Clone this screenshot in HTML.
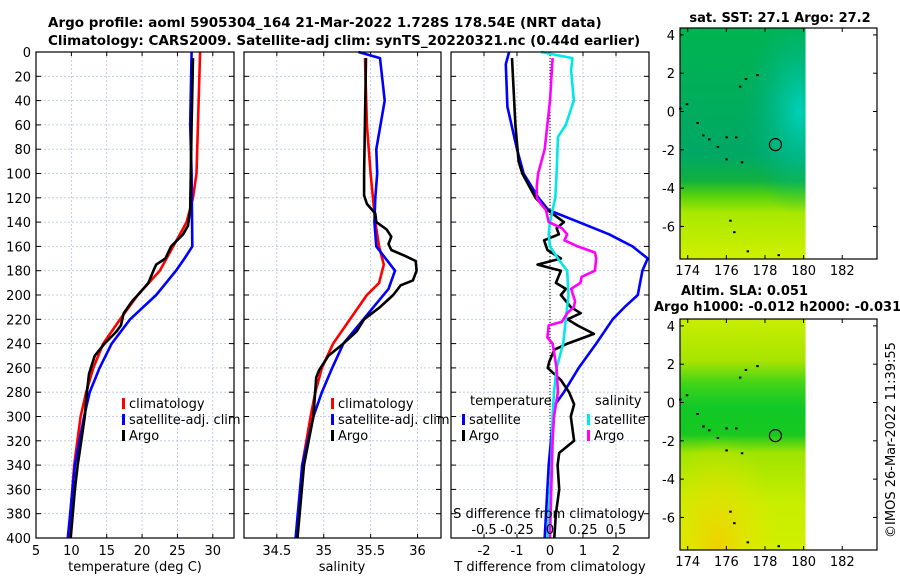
<!DOCTYPE html>
<html><head><meta charset="utf-8"><style>
body{margin:0;background:#fff;}
svg{display:block;font-family:"DejaVu Sans","Liberation Sans",sans-serif;}
</style></head><body>
<svg id="fig" width="900" height="580" viewBox="0 0 900 580" xmlns="http://www.w3.org/2000/svg">
<defs>
<linearGradient id="sstV" x1="0" y1="0" x2="0" y2="1">
<stop offset="0" stop-color="#00b450"/><stop offset="0.55" stop-color="#00a865"/><stop offset="0.66" stop-color="#10b040"/><stop offset="0.72" stop-color="#50d010"/><stop offset="0.8" stop-color="#a8e800"/><stop offset="1" stop-color="#d0f000"/>
</linearGradient>
<radialGradient id="sstC" cx="0.95" cy="0.36" r="0.45"><stop offset="0" stop-color="#00d0b8"/><stop offset="1" stop-color="#00b080" stop-opacity="0"/></radialGradient>
<linearGradient id="slaV" x1="0" y1="0" x2="0" y2="1">
<stop offset="0" stop-color="#c8ee00"/><stop offset="0.18" stop-color="#a8e400"/><stop offset="0.28" stop-color="#40d418"/><stop offset="0.38" stop-color="#10c828"/><stop offset="0.5" stop-color="#18c820"/><stop offset="0.58" stop-color="#a0e400"/><stop offset="0.8" stop-color="#c8ee00"/><stop offset="1" stop-color="#d0f000"/>
</linearGradient>
<radialGradient id="slaO" cx="0.3" cy="1" r="0.5"><stop offset="0" stop-color="#f0d000"/><stop offset="1" stop-color="#e8e800" stop-opacity="0"/></radialGradient>
</defs>
<g id="titles" font-weight="bold" font-size="13.5">
<text x="48" y="27">Argo profile: aoml 5905304_164 21-Mar-2022 1.728S 178.54E (NRT data)</text>
<text x="48" y="45">Climatology: CARS2009. Satellite-adj clim: synTS_20220321.nc (0.44d earlier)</text>
</g>
<g id="plots"></g>
</svg>
<script>
// ---- data: depth (m) arrays and values ----
const depthClimT=[0,100,120,140,160,180,200,220,240,260,280,300,340,400];
const tempClim=[28.2,27.7,27.2,26.3,24.4,22.5,19.4,16.9,14.5,13.1,12.1,11.3,10.4,9.6];
const depthSatT=[0,60,100,160,170,180,200,220,240,260,280,300,340,400];
const tempSat=[27.0,26.8,27.0,27.1,26.0,24.8,22.0,18.3,15.7,14.0,12.6,11.8,10.5,9.5];
const depthArgoT=[5,60,130,143,150,160,170,175,180,190,200,205,215,225,230,240,250,265,280,300,320,340,360,400];
const tempArgo=[27.2,27.0,26.8,26.5,25.8,24.1,23.3,22.0,21.6,20.9,19.4,18.6,17.4,17.0,16.4,14.7,13.3,12.5,12.2,11.9,11.4,10.9,10.5,9.9];
const depthClimS=[5,60,100,140,160,175,190,200,220,240,260,280,300,340,400];
const salClim=[35.44,35.46,35.5,35.55,35.59,35.64,35.59,35.46,35.28,35.1,34.98,34.91,34.86,34.77,34.71];
const depthSatS=[0,5,40,80,100,120,140,160,180,195,210,225,240,260,280,300,340,400];
const salSat=[35.37,35.6,35.65,35.56,35.57,35.55,35.54,35.56,35.76,35.69,35.53,35.37,35.21,35.09,34.98,34.89,34.77,34.7];
const depthArgoS=[5,100,118,125,133,140,146,152,158,163,168,172,180,188,192,200,210,220,230,240,250,262,268,300,320,340,400];
const salArgo=[35.45,35.43,35.43,35.46,35.55,35.56,35.67,35.72,35.69,35.72,35.87,35.98,35.99,35.95,35.82,35.74,35.6,35.43,35.35,35.21,35.05,34.95,34.92,34.89,34.84,34.79,34.72];
const depthDT=[0,10,45,80,100,120,130,140,150,160,170,180,200,210,220,240,260,280,290,310,340,400];
const dTSat=[-1.24,-1.34,-1.29,-1.0,-0.8,-0.35,-0.05,0.87,1.79,2.5,2.96,2.8,2.66,2.26,1.9,1.4,0.87,0.42,0.16,0.06,-0.04,-0.16];
const depthDTA=[5,60,90,100,120,130,140,145,150,155,163,170,175,180,190,195,200,210,215,220,225,232,240,245,255,260,270,280,290,300,320,330,340,360,380,400];
const dTArgo=[-1.15,-1.05,-0.95,-0.84,-0.44,-0.08,0.42,0.2,0.27,-0.18,-0.08,0.33,-0.38,0.33,0.18,0.48,0.33,0.63,0.93,0.53,0.83,1.33,0.53,0.13,-0.02,-0.07,0.33,0.58,0.73,0.63,0.73,0.28,0.23,0.28,0.18,0.13];
const depthDS=[0,5,15,40,60,70,100,120,130,140,150,160,170,180,200,220,240,260,280,300,340,400];
const dSSat=[-0.07,0.17,0.16,0.18,0.12,0.06,0.05,0.04,0.02,0.0,-0.01,0.0,0.06,0.13,0.14,0.12,0.10,0.05,0.03,0.02,0.01,-0.02];
const depthDSA=[5,40,80,100,110,120,125,130,140,145,150,155,160,165,170,180,185,190,195,205,210,215,222,225,235,240,260,280,300,320,360,400];
const dSArgo=[0.02,0.0,-0.04,-0.09,-0.1,-0.1,-0.07,-0.03,-0.01,0.09,0.13,0.11,0.21,0.34,0.35,0.34,0.24,0.23,0.16,0.19,0.18,0.13,0.09,-0.01,-0.02,0.02,0.05,0.06,0.03,0.02,0.01,0.0];
const depthTicks=[0,20,40,60,80,100,120,140,160,180,200,220,240,260,280,300,320,340,360,380,400];
const tTicks=[5,10,15,20,25,30];
const sTicks=[34.5,35,35.5,36];
const dTTicks=[-2,-1,0,1,2];
const dSTicks=[-0.5,-0.25,0,0.25,0.5];
const dSTickLabels=["-0.5","-0.25","0","0.25","0.5"];
const lonTicks=[174,176,178,180,182];
const latTicks=[4,2,0,-2,-4,-6];
const floatLon=178.54, floatLat=-1.728;
const islands=[[173.6,0.15],[173.95,0.38],[174.5,-0.6],[174.8,-1.25],[175.1,-1.45],[175.55,-1.85],[176.0,-1.35],[176.5,-1.35],[176.0,-2.5],[176.8,-2.65],[176.2,-5.7],[176.4,-6.3],[177.1,-7.3],[178.7,-7.5],[177.0,1.7],[177.6,1.9],[176.7,1.3]];

const NS="http://www.w3.org/2000/svg";
const root=document.getElementById('plots');
function mk(tag,attrs,parent){const e=document.createElementNS(NS,tag);for(const k in attrs)e.setAttribute(k,attrs[k]);(parent||root).appendChild(e);return e;}
const Y0=52,Y1=538;
function yD(d){return Y0+d/400*(Y1-Y0);}
function panel(x0,x1,vmin,vmax,name){
  const sx=v=>x0+(v-vmin)/(vmax-vmin)*(x1-x0);
  const g=mk('g',{});
  
  
  return {x0,x1,sx,g};
}
function grid(p,xt){
  xt.forEach(v=>{const x=p.sx(v);mk('line',{x1:x,x2:x,y1:Y0,y2:Y1,stroke:'#b8c4e0','stroke-dasharray':'2,2','stroke-width':0.8},p.g);
    mk('line',{x1:x,x2:x,y1:Y1,y2:Y1-4,stroke:'#000'},p.g);mk('line',{x1:x,x2:x,y1:Y0,y2:Y0+4,stroke:'#000'},p.g);});
  depthTicks.forEach(d=>{const y=yD(d);mk('line',{x1:p.x0,x2:p.x1,y1:y,y2:y,stroke:'#b8c4e0','stroke-dasharray':'2,2','stroke-width':0.8},p.g);
    mk('line',{x1:p.x0,x2:p.x0+5,y1:y,y2:y,stroke:'#000'},p.g);mk('line',{x1:p.x1,x2:p.x1-5,y1:y,y2:y,stroke:'#000'},p.g);});
}
function line(p,xs,ds,color,name){
  const pts=xs.map((v,i)=>p.sx(v).toFixed(1)+','+yD(ds[i]).toFixed(1)).join(' ');
  const e=mk('polyline',{points:pts,fill:'none',stroke:color,'stroke-width':2.6,'stroke-linejoin':'round'},p.g);
  
  
}
function box(p){mk('rect',{x:p.x0,y:Y0,width:p.x1-p.x0,height:Y1-Y0,fill:'none',stroke:'#000','stroke-width':1.2},p.g);}
function txt(s,x,y,attrs,parent){const e=mk('text',Object.assign({x,y,'font-size':13},attrs||{}),parent);e.textContent=s;return e;}
function legendItem(p,x,y,color,label,name){
  mk('rect',{x:x,y:y-10,width:3,height:11,fill:color},p.g);
  const t=txt(label,x+7,y,{},p.g);
  
  
}

// Panel 1 temperature
const p1=panel(36,234,5,33,'temperature-panel');
grid(p1,tTicks);
line(p1,tempClim,depthClimT,'#ff0000','climatology-temp-line');
line(p1,tempSat,depthSatT,'#0000ff','satellite-temp-line');
line(p1,tempArgo,depthArgoT,'#000000','argo-temp-line');
box(p1);
depthTicks.forEach(d=>txt(String(d),31,yD(d)+5,{'text-anchor':'end'},p1.g));
tTicks.forEach(v=>txt(String(v),p1.sx(v),555,{'text-anchor':'middle'},p1.g));
txt('temperature (deg C)',135,571,{'text-anchor':'middle'},p1.g);
legendItem(p1,122,408,'#ff0000','climatology','legend-climatology');
legendItem(p1,122,424,'#0000ff','satellite-adj. clim','legend-satellite');
legendItem(p1,122,440,'#000','Argo','legend-argo');

// Panel 2 salinity
const p2=panel(244,441,34.15,36.25,'salinity-panel');
grid(p2,sTicks);
line(p2,salClim,depthClimS,'#ff0000','climatology-sal-line');
line(p2,salSat,depthSatS,'#0000ff','satellite-sal-line');
line(p2,salArgo,depthArgoS,'#000000','argo-sal-line');
box(p2);
sTicks.forEach(v=>txt(String(v),p2.sx(v),555,{'text-anchor':'middle'},p2.g));
txt('salinity',342,571,{'text-anchor':'middle'},p2.g);
legendItem(p2,331,408,'#ff0000','climatology','legend-climatology-2');
legendItem(p2,331,424,'#0000ff','satellite-adj. clim','legend-satellite-2');
legendItem(p2,331,440,'#000','Argo','legend-argo-2');

// Panel 3 differences
const p3=panel(451,649,-3,3,'difference-panel');
const p3s=v=>451+(v+0.75)/1.5*(649-451);
mk('rect',{x:451,y:Y0,width:198,height:Y1-Y0,fill:'#fff'},p3.g);
grid(p3,dTTicks);
mk('line',{x1:p3.sx(0),x2:p3.sx(0),y1:Y0,y2:Y1,stroke:'#000','stroke-dasharray':'1,2','stroke-width':1},p3.g);
line(p3,dTSat,depthDT,'#0000ff','satellite-dT-line');
line(p3,dTArgo,depthDTA,'#000000','argo-dT-line');
const p3S={x0:451,x1:649,sx:p3s,g:p3.g};
line(p3S,dSSat,depthDS,'#00e8e8','satellite-dS-line');
line(p3S,dSArgo,depthDSA,'#ff00ff','argo-dS-line');
box(p3);
dTTicks.forEach(v=>txt(String(v),p3.sx(v),555,{'text-anchor':'middle'},p3.g));
txt('T difference from climatology',550,571,{'text-anchor':'middle'},p3.g);
txt('S difference from climatology',549,518,{'text-anchor':'middle'},p3.g);
dSTicks.forEach((v,i)=>txt(dSTickLabels[i],p3s(v),534,{'text-anchor':'middle'},p3.g));
txt('temperature',470,405,{},p3.g);
legendItem(p3,462,424,'#0000ff','satellite','legend-dT-satellite');
legendItem(p3,462,440,'#000','Argo','legend-dT-argo');
txt('salinity',595,405,{},p3.g);
legendItem(p3,587,424,'#00e8e8','satellite','legend-dS-satellite');
legendItem(p3,587,440,'#ff00ff','Argo','legend-dS-argo');

// Maps
function map(top,bot,latTop,latBot,fillId,overlayId,name){
  const g=mk('g',{});
  
  
  const L=680,R=877,lonMin=173.6,lonMax=183.8;
  const sx=v=>L+(v-lonMin)/(lonMax-lonMin)*(R-L);
  const sy=v=>top+(latTop-v)/(latTop-latBot)*(bot-top);
  const dx=sx(180.1);
  mk('rect',{x:L,y:top,width:dx-L,height:bot-top,fill:'url(#'+fillId+')'},g);
  mk('rect',{x:L,y:top,width:dx-L,height:bot-top,fill:'url(#'+overlayId+')'},g);
  islands.forEach(p=>mk('rect',{x:sx(p[0])-1,y:sy(p[1])-1,width:2.5,height:2,fill:'#000'},g));
  const c=mk('circle',{cx:sx(floatLon),cy:sy(floatLat),r:6,fill:'none',stroke:'#000','stroke-width':1.2},g);
  
  
  mk('rect',{x:L,y:top,width:R-L,height:bot-top,fill:'none',stroke:'#000','stroke-width':1.2},g);
  lonTicks.forEach(v=>{const x=sx(v);mk('line',{x1:x,x2:x,y1:bot,y2:bot-4,stroke:'#000'},g);mk('line',{x1:x,x2:x,y1:top,y2:top+4,stroke:'#000'},g);
    txt(String(v),x,bot+16,{'text-anchor':'middle'},g);});
  latTicks.forEach(v=>{const y=sy(v);mk('line',{x1:L,x2:L+4,y1:y,y2:y,stroke:'#000'},g);mk('line',{x1:R,x2:R-4,y1:y,y2:y,stroke:'#000'},g);
    txt(String(v),L-5,y+5,{'text-anchor':'end'},g);});
}
map(28,259,4.36,-7.7,'sstV','sstC','sst-map');
map(319,550,4.36,-7.7,'slaV','slaO','sla-map');
txt('sat. SST: 27.1 Argo: 27.2',780,22,{'text-anchor':'middle','font-weight':'bold'});
txt('Altim. SLA: 0.051',681,295,{'font-weight':'bold'});
txt('Argo h1000: -0.012 h2000: -0.031',654,311,{'font-weight':'bold'});
const stamp=txt('©IMOS 26-Mar-2022 11:39:55',0,0,{'text-anchor':'middle',transform:'translate(895,440) rotate(-90)'});


</script>
</body></html>
